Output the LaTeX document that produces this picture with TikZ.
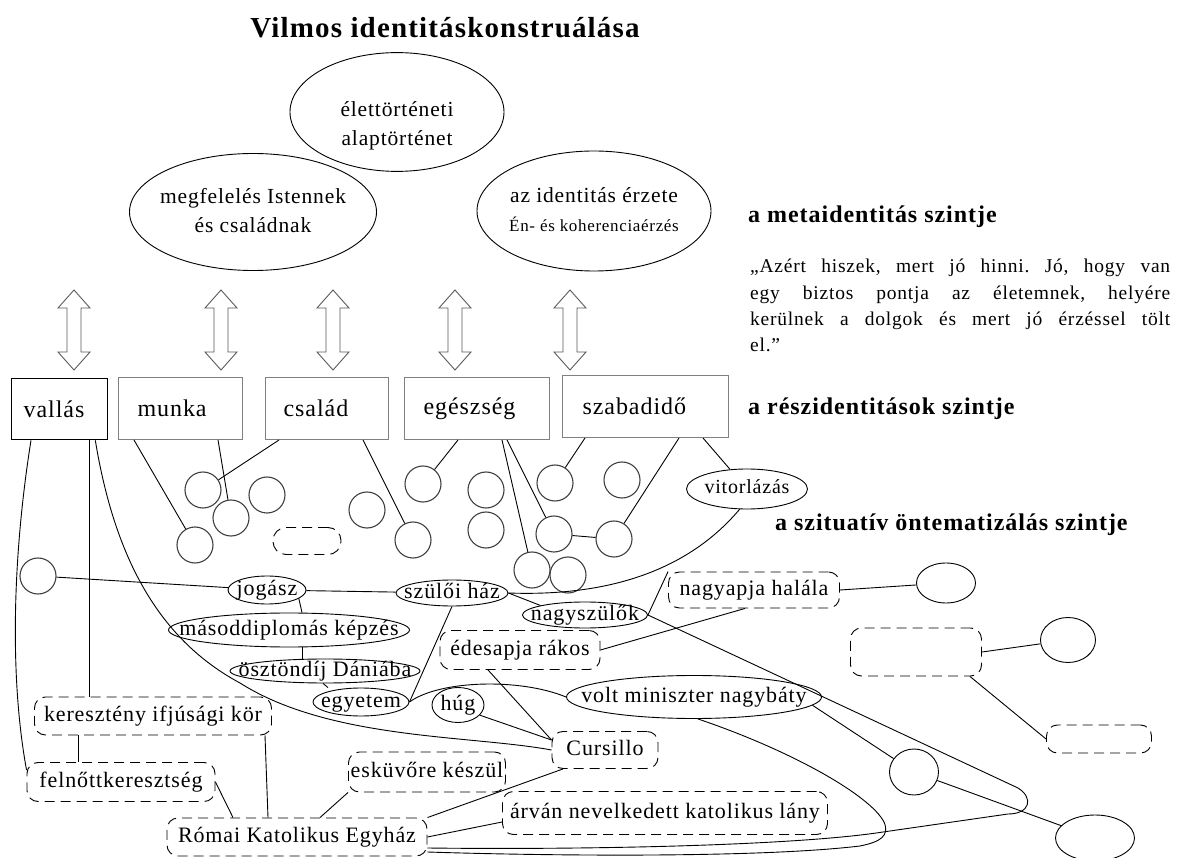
\documentclass[tikz,border=0pt]{standalone}
\usepackage{fontspec}
\setmainfont{Liberation Serif}[LetterSpace=4]
\usetikzlibrary{shapes.geometric}

\begin{document}
\frenchspacing
\begin{tikzpicture}[x=1pt,y=-1pt,
  link/.style={line width=0.9, black},
  zw/.style={execute at begin node={\hbox to 0pt\bgroup\hss},
             execute at end node={\hss\egroup}},
  lbl/.style={font=\fontsize{22}{25}\selectfont},
  title/.style={font=\bfseries\fontsize{29}{32}\selectfont, inner sep=0},
  heading/.style={font=\bfseries\fontsize{24}{27}\selectfont, anchor=west, inner sep=0},
  quote/.style={font=\fontsize{19.5}{26.3}\selectfont, anchor=north west, inner sep=0,
                text width=420, align=justify},
  meta/.style={ellipse, draw, line width=0.9, inner sep=0, font=\fontsize{21.5}{29}\selectfont},
  box/.style={rectangle, draw=black!50, line width=1, anchor=north west, align=left,
              inner ysep=0, font=\fontsize{24}{27}\selectfont},
  circ/.style={circle, draw=black!75, line width=1.1, minimum size=36, inner sep=0},
  oval/.style={ellipse, draw, line width=0.9, inner sep=0, text height=10pt,
               text depth=0pt, zw, lbl},
  dbox/.style={rectangle, rounded corners=11, draw, dash pattern=on 10pt off 6pt,
               line width=0.9, inner sep=0, text height=10pt, text depth=0pt, zw, lbl},
  dblarrow/.style={draw=black!65, line width=0.9, fill=white},
  pics/updown/.style={code={
    \draw[dblarrow] (0,0) -- (16,18) -- (7,18) -- (7,62) -- (16,62) -- (0,80)
      -- (-16,62) -- (-7,62) -- (-7,18) -- (-16,18) -- cycle;}}
]
\path[fill=white, use as bounding box] (0,0) rectangle (1179,858);

% title
\node[title] (title) at (445,28) {Vilmos identitáskonstruálása};

% meta-identity level
\node[meta, minimum width=214, minimum height=100] (life) at (397,112)
  {\hbox to 0pt{\hss\raisebox{-26pt}[\height]{\begin{tabular}{@{}c@{}}élettörténeti\\alaptörténet\end{tabular}}\hss}};
\node[meta, minimum width=247, minimum height=117] (duty) at (253,212)
  {\hbox to 0pt{\hss\begin{tabular}{@{}c@{}}megfelelés Istennek\\és családnak\end{tabular}\hss}};
\node[meta, minimum width=234, minimum height=120] (sense) at (594,211)
  {\hbox to 0pt{\hss\begin{tabular}{@{}c@{}}az identitás érzete\\{\fontsize{17}{20}\selectfont Én- és koherenciaérzés}\end{tabular}\hss}};

% level headings and quotation
\node[heading] (hmeta) at (748,217) {a metaidentitás szintje};
\node[heading] (hpart) at (748,409) {a részidentitások szintje};
\node[heading] (hsit) at (775,525) {a szituatív öntematizálás szintje};
\node[quote] (quote) at (750,259) {„Azért hiszek, mert jó hinni. Jó, hogy van\linebreak
  egy biztos pontja az életemnek, helyére\linebreak
  kerülnek a dolgok és mert jó érzéssel tölt\linebreak el.”};

% two-way arrows between the levels
\pic at (74,290) {updown};
\pic at (221,290) {updown};
\pic at (333,290) {updown};
\pic at (455,290) {updown};
\pic at (570,290) {updown};

% partial identities
\node[box, draw=black, line width=1.3, minimum height=61, text width=72, inner xsep=12] (vallas) at (11,378) {vallás};
\node[box, minimum height=62, text width=86, inner xsep=19] (munka) at (118,377) {munka};
\node[box, minimum height=62, text width=87, inner xsep=18] (csalad) at (265,377) {család};
\node[box, minimum height=62, text width=107, inner xsep=19] (egeszseg) at (404,377) {egészség};
\node[box, minimum height=62, text width=126, inner xsep=20] (szabadido) at (562,375) {szabadidő};

% unnamed situations
\node[circ] (ca) at (203,490) {};
\node[circ] (cb) at (231,518) {};
\node[circ] (cc) at (267,495) {};
\node[circ] (cd) at (195,545) {};
\node[circ] (ce) at (367,510) {};
\node[circ] (cf) at (413,540) {};
\node[circ] (cg) at (423,484) {};
\node[circ] (ch) at (486,490) {};
\node[circ] (ci) at (486,530) {};
\node[circ] (cj) at (532,570) {};
\node[circ] (ck) at (568,575) {};
\node[circ] (cl) at (555,483) {};
\node[circ] (cm) at (622,480) {};
\node[circ] (cn) at (554,534) {};
\node[circ] (co) at (614,539) {};
\node[circ] (cleft) at (38,576) {};
\node[dbox, rounded corners=13, minimum width=68, minimum height=27] (dsmall) at (307,541) {};

% situations (ovals)
\node[oval, font=\fontsize{20}{22}\selectfont, minimum width=121, minimum height=40] (vitorlazas) at (747,489) {vitorlázás};
\node[oval, minimum width=78, minimum height=28] (jogasz) at (267,590) {jogász};
\node[oval, minimum width=112, minimum height=26] (szulohaz) at (452,593) {szülői ház};
\node[oval, minimum width=125, minimum height=26] (nagyszulok) at (585,615) {nagyszülők};
\node[oval, minimum width=241, minimum height=34] (masod) at (289,630) {másoddiplomás képzés};
\node[oval, minimum width=190, minimum height=24] (osztondij) at (325,671) {ösztöndíj Dániába};
\node[oval, minimum width=96, minimum height=28] (egyetem) at (361,702) {egyetem};
\node[oval, minimum width=52, minimum height=35] (hug) at (458,705) {húg};
\node[oval, minimum width=255, minimum height=43] (volt) at (694,697) {volt miniszter nagybáty};
\node[oval, minimum width=59, minimum height=40] (e1) at (946,583) {};
\node[oval, minimum width=55, minimum height=45] (e2) at (1068,640) {};
\node[oval, minimum width=49, minimum height=46] (e3) at (914,772) {};
\node[oval, minimum width=79, minimum height=46] (e4) at (1095,838) {};

% situations (dashed)
\node[dbox, minimum width=237, minimum height=38] (kereszt) at (153,716) {keresztény ifjúsági kör};
\node[dbox, minimum width=188, minimum height=39] (felnott) at (121,782) {felnőttkeresztség};
\node[dbox, minimum width=260, minimum height=38] (romai) at (297,837) {Római Katolikus Egyház};
\node[dbox, minimum width=157, minimum height=40] (eskuvo) at (427,772) {esküvőre készül};
\node[dbox, minimum width=106, minimum height=37] (cursillo) at (605,750) {Cursillo};
\node[dbox, minimum width=160, minimum height=39] (edesapja) at (520,650) {édesapja rákos};
\node[dbox, minimum width=171, minimum height=36] (nagyapja) at (754,590) {nagyapja halála};
\node[dbox, minimum width=325, minimum height=43] (arvan) at (665,813) {árván nevelkedett katolikus lány};
\node[dbox, minimum width=131, minimum height=48] (dblank1) at (916,652) {};
\node[dbox, minimum width=105, minimum height=28] (dblank2) at (1099,739) {};

% links from the partial identities
\draw[link] ([xshift=16]munka.south west) -- (cd);
\draw[link] ([xshift=100]munka.south west) -- (cb);
\draw[link] ([xshift=14]csalad.south west) -- (ca);
\draw[link] ([xshift=98]csalad.south west) -- (cf);
\draw[link] ([xshift=54]egeszseg.south west) -- (cg);
\draw[link] ([xshift=98]egeszseg.south west) -- (cj);
\draw[link] ([xshift=103]egeszseg.south west) -- (cn);
\draw[link] ([xshift=23]szabadido.south west) -- (cl);
\draw[link] ([xshift=117]szabadido.south west) -- (co);
\draw[link] ([xshift=141]szabadido.south west) -- (vitorlazas);
\draw[link] (cn) -- (co);
\draw[link] ([xshift=-13]vallas.south east) .. controls (115,560) and (160,640) .. (240,683)
  .. controls (330,740) and (470,735) .. (cursillo.west);
\draw[link] ([xshift=20]vallas.south west) .. controls (12,560) and (10,680) .. ([yshift=12]felnott.west);
\draw[link] ([xshift=78]vallas.south west) -- ([xshift=-64]kereszt.north);

% links between situations
\draw[link] (cleft) -- (jogasz);
\draw[link] (jogasz) -- (szulohaz);
\draw[link] (szulohaz.east) -- (nagyszulok.north west);
\draw[link] (jogasz.-15) -- ([xshift=13]masod.north);
\draw[link] ([xshift=13]masod.south) -- ([xshift=-23]osztondij.north);
\draw[link] ([xshift=-2]osztondij.south) -- ([xshift=-33]egyetem.north);
\draw[link] (szulohaz.south) -- (egyetem.east);
\draw[link] (egyetem.east) .. controls (440,680) and (520,678) .. (volt.west);
\draw[link] (vitorlazas.-110) .. controls (680,580) and (590,596) .. (szulohaz.east);
\draw[link] ([xshift=-75]kereszt.south) -- ([xshift=-43]felnott.north);
\draw[link] ([xshift=112]kereszt.south) -- ([xshift=-29]romai.north);
\draw[link] (felnott.east) -- ([xshift=-64]romai.north);
\draw[link] (eskuvo.south west) -- ([xshift=23]romai.north);
\draw[link] ([xshift=-42]cursillo.south) -- (romai.north east);
\draw[link] ([yshift=-9]arvan.west) -- (romai.east);
\draw[link] (hug.-25) -- ([yshift=10]cursillo.west);
\draw[link] ([xshift=-32]edesapja.south) -- ([yshift=10]cursillo.west);
\draw[link] (edesapja.east) -- ([xshift=-9]nagyapja.south);
\draw[link] (nagyszulok.east) -- (nagyapja.north west);
\draw[link] (nagyapja.east) -- (e1);
\draw[link] (dblank1.east) -- (e2);
\draw[link] ([xshift=-12]dblank1.south east) -- (dblank2.west);
\draw[link] (volt.-4) -- (e3);
\draw[link] (e3) -- (e4);
\draw[link] (nagyszulok.east) -- (1018,788) .. controls (1034,798) and (1030,814) .. (1008,814)
  -- (883,832) .. controls (800,845) and (600,850) .. ([yshift=-11]romai.east);
\draw[link] (volt.-80) .. controls (790,750) and (870,795) .. (884,822)
  .. controls (890,836) and (880,842) .. (860,846) .. controls (760,858) and (550,856) .. ([yshift=-15]romai.east);
\end{tikzpicture}
\end{document}
